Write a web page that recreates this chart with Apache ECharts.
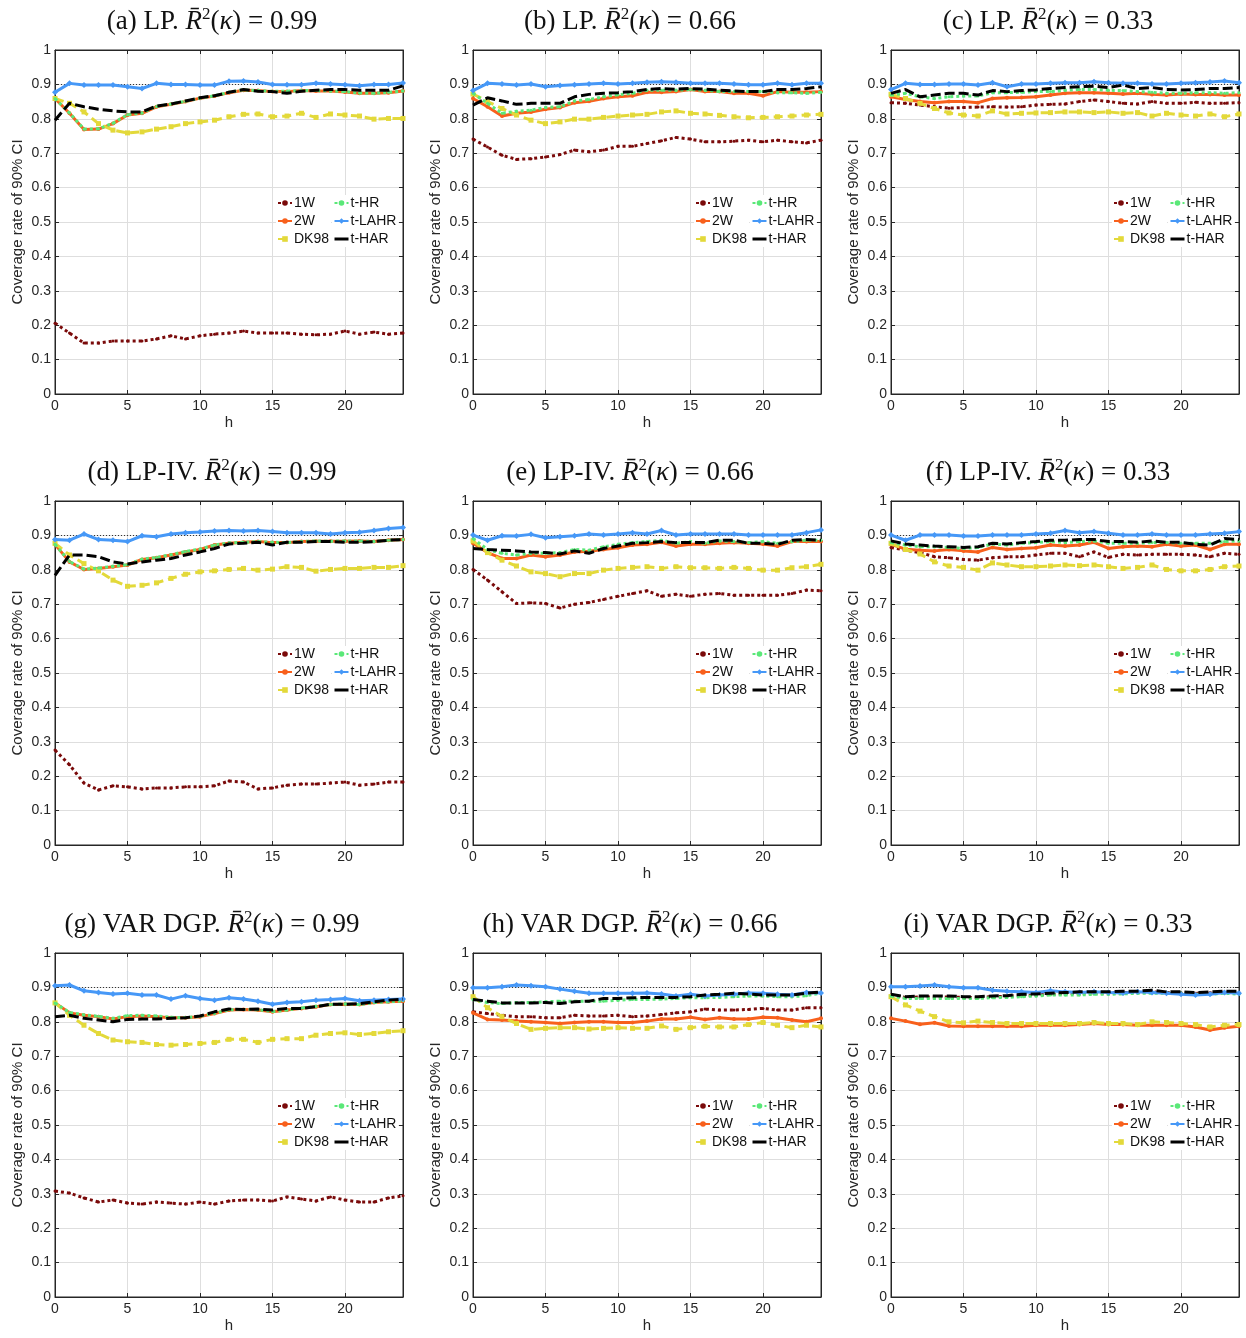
<!DOCTYPE html>
<html>
<head>
<meta charset="utf-8">
<title>Coverage rate of 90% CI</title>
<script src="https://cdn.jsdelivr.net/npm/echarts@6/dist/echarts.min.js"></script>
</head>
<body style="margin:0;background:#fff">
<div id="main" style="width:1246px;height:1338px"></div>
<script>
// horizons h
var horizons = [0,1,2,3,4,5,6,7,8,9,10,11,12,13,14,15,16,17,18,19,20,21,22,23,24];
var nominalLevel = 0.9;
var methods = ['1W', '2W', 'DK98', 't-HR', 't-LAHR', 't-HAR'];
var panelNames = ['(a) LP.', '(b) LP.', '(c) LP.', '(d) LP-IV.', '(e) LP-IV.', '(f) LP-IV.',
                  '(g) VAR DGP.', '(h) VAR DGP.', '(i) VAR DGP.'];
var kappaValues = ['0.99', '0.66', '0.33', '0.99', '0.66', '0.33', '0.99', '0.66', '0.33'];

// (a) LP, 0.99
var a1W   = [0.206,0.177,0.148,0.148,0.154,0.154,0.154,0.160,0.169,0.160,0.169,0.174,0.177,0.183,0.177,0.177,0.177,0.174,0.172,0.174,0.183,0.174,0.180,0.174,0.177];
var a2W   = [0.859,0.816,0.769,0.770,0.786,0.811,0.816,0.835,0.842,0.850,0.860,0.866,0.876,0.883,0.882,0.879,0.879,0.882,0.881,0.881,0.878,0.874,0.874,0.876,0.881];
var aDK98 = [0.859,0.845,0.820,0.786,0.767,0.759,0.762,0.770,0.777,0.786,0.791,0.796,0.806,0.813,0.814,0.806,0.808,0.816,0.804,0.814,0.811,0.808,0.799,0.801,0.801];
var aHR   = [0.859,0.817,0.770,0.771,0.787,0.812,0.817,0.836,0.843,0.851,0.860,0.867,0.877,0.884,0.882,0.880,0.880,0.882,0.882,0.881,0.879,0.875,0.874,0.877,0.881];
var aLAHR = [0.877,0.903,0.898,0.898,0.898,0.893,0.888,0.903,0.900,0.900,0.898,0.898,0.909,0.910,0.907,0.900,0.899,0.899,0.903,0.901,0.899,0.896,0.900,0.900,0.904];
var aHAR  = [0.796,0.845,0.835,0.828,0.823,0.820,0.820,0.837,0.843,0.852,0.861,0.867,0.877,0.885,0.880,0.879,0.874,0.880,0.883,0.885,0.885,0.883,0.883,0.883,0.896];

// (b) LP, 0.66
var b1W   = [0.741,0.718,0.694,0.682,0.684,0.689,0.696,0.709,0.704,0.709,0.720,0.720,0.728,0.736,0.746,0.741,0.733,0.733,0.735,0.738,0.733,0.738,0.733,0.730,0.738];
var b2W   = [0.859,0.835,0.808,0.816,0.820,0.828,0.833,0.847,0.851,0.859,0.864,0.867,0.877,0.877,0.879,0.885,0.879,0.879,0.874,0.874,0.867,0.879,0.877,0.877,0.879];
var bDK98 = [0.872,0.850,0.830,0.811,0.796,0.786,0.791,0.799,0.799,0.804,0.808,0.811,0.813,0.820,0.823,0.816,0.814,0.810,0.806,0.803,0.804,0.806,0.808,0.811,0.813];
var bHR   = [0.874,0.845,0.816,0.822,0.825,0.833,0.835,0.852,0.856,0.864,0.870,0.874,0.883,0.883,0.883,0.885,0.883,0.879,0.879,0.879,0.879,0.876,0.876,0.874,0.877];
var bLAHR = [0.882,0.903,0.901,0.898,0.901,0.893,0.897,0.899,0.901,0.903,0.901,0.903,0.906,0.908,0.906,0.903,0.903,0.903,0.901,0.899,0.899,0.903,0.899,0.903,0.903];
var bHAR  = [0.840,0.861,0.852,0.842,0.845,0.845,0.845,0.864,0.871,0.874,0.876,0.879,0.885,0.888,0.886,0.888,0.886,0.883,0.881,0.879,0.879,0.885,0.885,0.888,0.893];

// (c) LP, 0.33
var c1W   = [0.847,0.845,0.840,0.835,0.831,0.833,0.834,0.835,0.834,0.835,0.840,0.842,0.843,0.850,0.855,0.850,0.845,0.843,0.850,0.845,0.845,0.848,0.845,0.845,0.847];
var c2W   = [0.864,0.856,0.850,0.847,0.850,0.850,0.847,0.859,0.861,0.862,0.864,0.869,0.874,0.876,0.876,0.874,0.872,0.874,0.871,0.869,0.872,0.871,0.871,0.869,0.869];
var cDK98 = [0.871,0.859,0.845,0.830,0.817,0.811,0.808,0.823,0.814,0.816,0.817,0.818,0.820,0.820,0.818,0.820,0.816,0.818,0.808,0.816,0.811,0.808,0.814,0.806,0.814];
var cHR   = [0.869,0.874,0.864,0.859,0.864,0.866,0.866,0.876,0.876,0.877,0.879,0.879,0.883,0.885,0.885,0.883,0.882,0.879,0.877,0.874,0.874,0.876,0.876,0.874,0.876];
var cLAHR = [0.885,0.903,0.900,0.900,0.901,0.901,0.898,0.905,0.893,0.901,0.901,0.903,0.905,0.905,0.908,0.905,0.903,0.903,0.901,0.901,0.903,0.905,0.907,0.910,0.905];
var cHAR  = [0.874,0.885,0.864,0.869,0.874,0.874,0.869,0.882,0.879,0.882,0.884,0.888,0.891,0.893,0.895,0.891,0.898,0.888,0.891,0.885,0.884,0.885,0.888,0.888,0.891];

// (d) LP-IV, 0.99
var d1W   = [0.276,0.233,0.180,0.160,0.172,0.169,0.163,0.166,0.166,0.169,0.169,0.172,0.186,0.183,0.163,0.166,0.174,0.177,0.177,0.180,0.183,0.174,0.177,0.183,0.183];
var d2W   = [0.874,0.823,0.801,0.804,0.809,0.814,0.830,0.835,0.843,0.852,0.859,0.872,0.877,0.880,0.882,0.879,0.879,0.882,0.883,0.883,0.883,0.884,0.882,0.886,0.888];
var dDK98 = [0.877,0.843,0.818,0.797,0.770,0.752,0.755,0.762,0.775,0.787,0.794,0.797,0.801,0.804,0.799,0.802,0.809,0.807,0.796,0.801,0.804,0.804,0.807,0.807,0.812];
var dHR   = [0.874,0.824,0.802,0.805,0.810,0.815,0.831,0.836,0.844,0.853,0.860,0.872,0.878,0.880,0.882,0.880,0.879,0.882,0.884,0.883,0.884,0.884,0.882,0.886,0.888];
var dLAHR = [0.888,0.886,0.904,0.888,0.886,0.882,0.899,0.896,0.904,0.908,0.910,0.913,0.914,0.913,0.914,0.911,0.908,0.908,0.908,0.904,0.908,0.909,0.914,0.920,0.923];
var dHAR  = [0.784,0.843,0.843,0.838,0.823,0.817,0.823,0.828,0.833,0.843,0.852,0.862,0.875,0.877,0.880,0.872,0.880,0.880,0.882,0.882,0.880,0.880,0.882,0.886,0.888];

// (e) LP-IV, 0.66
var e1W   = [0.801,0.770,0.736,0.702,0.704,0.702,0.689,0.700,0.705,0.714,0.723,0.731,0.739,0.723,0.729,0.723,0.729,0.731,0.726,0.726,0.726,0.726,0.731,0.741,0.739];
var e2W   = [0.877,0.850,0.833,0.833,0.843,0.838,0.843,0.852,0.854,0.859,0.864,0.872,0.874,0.880,0.869,0.874,0.874,0.877,0.879,0.877,0.875,0.869,0.882,0.882,0.882];
var eDK98 = [0.884,0.850,0.828,0.811,0.794,0.789,0.780,0.789,0.789,0.799,0.804,0.807,0.809,0.804,0.809,0.806,0.806,0.804,0.807,0.804,0.799,0.799,0.806,0.809,0.816];
var eHR   = [0.891,0.859,0.848,0.843,0.848,0.848,0.850,0.859,0.857,0.867,0.874,0.879,0.882,0.886,0.877,0.882,0.877,0.884,0.882,0.879,0.882,0.877,0.882,0.886,0.886];
var eLAHR = [0.901,0.886,0.899,0.898,0.903,0.893,0.896,0.899,0.904,0.901,0.904,0.908,0.904,0.914,0.901,0.904,0.904,0.904,0.904,0.901,0.901,0.901,0.901,0.908,0.916];
var eHAR  = [0.862,0.859,0.857,0.855,0.852,0.850,0.846,0.855,0.848,0.862,0.869,0.877,0.879,0.882,0.879,0.879,0.879,0.886,0.886,0.877,0.877,0.874,0.886,0.888,0.886];

// (f) LP-IV, 0.33
var f1W   = [0.865,0.857,0.850,0.838,0.835,0.830,0.828,0.835,0.838,0.838,0.843,0.848,0.848,0.838,0.852,0.836,0.845,0.843,0.845,0.845,0.845,0.843,0.838,0.848,0.845];
var f2W   = [0.874,0.860,0.857,0.855,0.859,0.855,0.852,0.865,0.859,0.862,0.864,0.872,0.869,0.872,0.880,0.862,0.867,0.869,0.867,0.874,0.869,0.872,0.859,0.874,0.874];
var fDK98 = [0.877,0.859,0.846,0.823,0.811,0.807,0.799,0.820,0.814,0.809,0.809,0.811,0.814,0.812,0.814,0.809,0.804,0.807,0.814,0.801,0.797,0.797,0.801,0.809,0.811];
var fHR   = [0.879,0.872,0.867,0.867,0.865,0.862,0.865,0.875,0.872,0.877,0.879,0.882,0.879,0.882,0.884,0.877,0.877,0.877,0.879,0.879,0.877,0.877,0.877,0.882,0.884];
var fLAHR = [0.901,0.886,0.901,0.901,0.901,0.898,0.898,0.901,0.901,0.901,0.904,0.906,0.914,0.908,0.911,0.906,0.901,0.901,0.904,0.901,0.901,0.901,0.904,0.906,0.911];
var fHAR  = [0.884,0.875,0.872,0.869,0.867,0.865,0.867,0.877,0.875,0.879,0.882,0.886,0.886,0.888,0.888,0.882,0.882,0.880,0.884,0.880,0.880,0.874,0.872,0.891,0.888];

// (g) VAR DGP, 0.99
var g1W   = [0.308,0.302,0.288,0.276,0.282,0.273,0.270,0.276,0.273,0.270,0.276,0.270,0.279,0.282,0.282,0.279,0.291,0.285,0.279,0.291,0.282,0.276,0.276,0.288,0.294];
var g2W   = [0.855,0.826,0.819,0.815,0.808,0.815,0.817,0.815,0.812,0.812,0.815,0.824,0.834,0.836,0.834,0.829,0.834,0.839,0.844,0.850,0.851,0.850,0.856,0.858,0.860];
var gDK98 = [0.855,0.819,0.790,0.766,0.747,0.742,0.740,0.734,0.732,0.734,0.737,0.740,0.749,0.749,0.740,0.749,0.751,0.751,0.761,0.766,0.768,0.763,0.766,0.771,0.774];
var gHR   = [0.855,0.827,0.820,0.816,0.810,0.818,0.819,0.817,0.813,0.812,0.816,0.825,0.835,0.836,0.835,0.830,0.834,0.840,0.845,0.850,0.852,0.850,0.856,0.858,0.861];
var gLAHR = [0.905,0.907,0.890,0.885,0.881,0.883,0.878,0.878,0.866,0.876,0.868,0.863,0.870,0.866,0.860,0.851,0.856,0.858,0.863,0.865,0.868,0.861,0.863,0.865,0.866];
var gHAR  = [0.815,0.819,0.810,0.805,0.800,0.807,0.808,0.808,0.810,0.812,0.817,0.829,0.837,0.836,0.837,0.834,0.839,0.839,0.844,0.851,0.851,0.853,0.858,0.863,0.866];

// (h) VAR DGP, 0.66
var h1W   = [0.829,0.824,0.819,0.815,0.815,0.812,0.812,0.819,0.817,0.817,0.819,0.815,0.817,0.821,0.826,0.829,0.837,0.834,0.834,0.836,0.839,0.834,0.834,0.841,0.841];
var h2W   = [0.826,0.807,0.805,0.802,0.800,0.798,0.795,0.798,0.800,0.800,0.798,0.798,0.802,0.808,0.808,0.813,0.807,0.812,0.808,0.808,0.813,0.812,0.805,0.800,0.810];
var hDK98 = [0.873,0.841,0.815,0.795,0.778,0.781,0.783,0.783,0.779,0.781,0.783,0.781,0.781,0.788,0.778,0.783,0.787,0.785,0.785,0.792,0.798,0.790,0.783,0.790,0.785];
var hHR   = [0.865,0.856,0.853,0.856,0.856,0.858,0.860,0.860,0.860,0.860,0.863,0.865,0.865,0.866,0.868,0.870,0.870,0.871,0.873,0.875,0.875,0.873,0.873,0.876,0.883];
var hLAHR = [0.899,0.899,0.902,0.907,0.905,0.902,0.895,0.889,0.883,0.883,0.883,0.883,0.884,0.881,0.875,0.880,0.875,0.878,0.880,0.884,0.883,0.880,0.878,0.885,0.884];
var hHAR  = [0.865,0.860,0.855,0.855,0.855,0.856,0.853,0.858,0.860,0.868,0.868,0.870,0.871,0.871,0.871,0.873,0.878,0.880,0.883,0.881,0.878,0.878,0.878,0.883,0.887];

// (i) VAR DGP, 0.33
var i1W   = [0.878,0.871,0.872,0.872,0.872,0.871,0.871,0.873,0.874,0.877,0.878,0.880,0.882,0.883,0.884,0.884,0.885,0.886,0.887,0.885,0.885,0.883,0.884,0.886,0.885];
var i2W   = [0.810,0.802,0.793,0.797,0.788,0.787,0.787,0.787,0.787,0.787,0.790,0.790,0.790,0.792,0.795,0.792,0.792,0.790,0.790,0.790,0.790,0.785,0.776,0.783,0.787];
var iDK98 = [0.873,0.849,0.831,0.815,0.800,0.797,0.802,0.798,0.795,0.795,0.795,0.795,0.795,0.795,0.798,0.795,0.795,0.792,0.800,0.798,0.795,0.792,0.785,0.790,0.792];
var iHR   = [0.875,0.868,0.868,0.868,0.868,0.868,0.868,0.870,0.871,0.873,0.875,0.878,0.878,0.878,0.880,0.880,0.881,0.883,0.883,0.883,0.884,0.880,0.880,0.883,0.880];
var iLAHR = [0.902,0.902,0.904,0.907,0.902,0.899,0.899,0.892,0.889,0.887,0.885,0.890,0.887,0.885,0.887,0.885,0.884,0.887,0.885,0.883,0.880,0.878,0.880,0.885,0.883];
var iHAR  = [0.880,0.873,0.875,0.875,0.875,0.873,0.873,0.875,0.876,0.880,0.881,0.883,0.885,0.887,0.887,0.887,0.889,0.889,0.892,0.887,0.887,0.885,0.887,0.889,0.889];

var panelData = [
    [a1W, a2W, aDK98, aHR, aLAHR, aHAR],
    [b1W, b2W, bDK98, bHR, bLAHR, bHAR],
    [c1W, c2W, cDK98, cHR, cLAHR, cHAR],
    [d1W, d2W, dDK98, dHR, dLAHR, dHAR],
    [e1W, e2W, eDK98, eHR, eLAHR, eHAR],
    [f1W, f2W, fDK98, fHR, fLAHR, fHAR],
    [g1W, g2W, gDK98, gHR, gLAHR, gHAR],
    [h1W, h2W, hDK98, hHR, hLAHR, hHAR],
    [i1W, i2W, iDK98, iHR, iLAHR, iHAR]
];

// look of each method
var styles = {
    '1W':     {color: '#7a0a0a', type: [3, 3],  symbol: 'circle',  size: 3},
    '2W':     {color: '#f8601c', type: 'solid', symbol: 'circle',  size: 4},
    'DK98':   {color: '#e3d93a', type: [9, 5],  symbol: 'rect',    size: 5},
    't-HR':   {color: '#5ae878', type: [3, 3],  symbol: 'circle',  size: 3},
    't-LAHR': {color: '#4698f7', type: 'solid', symbol: 'diamond', size: 6},
    't-HAR':  {color: '#000000', type: [10, 4], symbol: 'none',    size: 0}
};

var colLeft = [55, 473, 891];
var rowTop = [50, 501, 953];
var titleX = [207, 625, 1043];
var plotW = 348, plotH = 344;
var sans = 'Liberation Sans';
var serif = 'Liberation Serif';
var ink = '#262626';

var grids = [], xAxes = [], yAxes = [], titles = [], legends = [], series = [];

// legend entries: t-HAR shows only its dashed line
var legendEntries = methods.map(function (name) {
    if (styles[name].symbol === 'none') {
        return {name: name, itemStyle: {opacity: 0}, lineStyle: {width: 3, type: 'solid'}};
    }
    return {name: name};
});

for (var p = 0; p < 9; p++) {
    var r = Math.floor(p / 3), c = p % 3;
    grids.push({left: colLeft[c], top: rowTop[r], width: plotW, height: plotH,
                show: true, borderColor: ink, borderWidth: 1, backgroundColor: '#fff'});

    titles.push({
        left: titleX[c], top: rowTop[r] - 49, textAlign: 'center',
        text: '{n|' + panelNames[p] + ' }{i|R\u0304}{s|2}{n|(}{i|\u03ba}{n|) = ' + kappaValues[p] + '}',
        textStyle: {
            fontWeight: 'normal',
            rich: {
                n: {fontFamily: serif, fontWeight: 'normal', fontSize: 27, color: '#111', lineHeight: 32},
                i: {fontFamily: serif, fontWeight: 'normal', fontStyle: 'italic', fontSize: 27, color: '#111', lineHeight: 32},
                s: {fontFamily: serif, fontWeight: 'normal', fontSize: 17, color: '#111', verticalAlign: 'top'}
            }
        }
    });

    var common = {gridIndex: p, min: 0, max: 24, interval: 5, type: 'value'};
    xAxes.push(Object.assign({}, common, {
        position: 'bottom',
        name: 'h', nameLocation: 'middle', nameGap: 21,
        nameTextStyle: {fontFamily: sans, fontSize: 15, color: ink},
        axisLine: {onZero: false, lineStyle: {color: ink, width: 1}},
        axisTick: {inside: true, length: 4, lineStyle: {color: ink}},
        axisLabel: {fontFamily: sans, fontSize: 14, color: ink, margin: 5, showMaxLabel: false},
        splitLine: {show: true, lineStyle: {color: '#dedede', width: 1}}
    }));
    xAxes.push(Object.assign({}, common, {
        position: 'top',
        axisLine: {onZero: false, lineStyle: {color: ink, width: 1}},
        axisTick: {inside: true, length: 4, lineStyle: {color: ink}},
        axisLabel: {show: false},
        splitLine: {show: false}
    }));

    var ycommon = {gridIndex: p, min: 0, max: 1, interval: 0.1, type: 'value'};
    yAxes.push(Object.assign({}, ycommon, {
        position: 'left',
        name: 'Coverage rate of 90% CI', nameLocation: 'middle', nameGap: 30,
        nameTextStyle: {fontFamily: sans, fontSize: 15, color: ink},
        axisLine: {onZero: false, lineStyle: {color: ink, width: 1}},
        axisTick: {inside: true, length: 4, lineStyle: {color: ink}},
        axisLabel: {fontFamily: sans, fontSize: 14, color: ink, margin: 4},
        splitLine: {show: true, lineStyle: {color: '#dedede', width: 1}}
    }));
    yAxes.push(Object.assign({}, ycommon, {
        position: 'right',
        axisLine: {onZero: false, lineStyle: {color: ink, width: 1}},
        axisTick: {inside: true, length: 4, lineStyle: {color: ink}},
        axisLabel: {show: false},
        splitLine: {show: false}
    }));

    var legendCommon = {
        orient: 'vertical', top: rowTop[r] + 145, itemGap: 4,
        itemWidth: 14, itemHeight: 7, padding: [1, 2, 1, 1],
        backgroundColor: '#fff', selectedMode: false,
        textStyle: {fontFamily: sans, fontSize: 14, color: '#111', padding: [0, 0, 0, -3]}
    };
    legends.push(Object.assign({}, legendCommon, {left: colLeft[c] + 221, data: legendEntries.slice(0, 3)}));
    legends.push(Object.assign({}, legendCommon, {left: colLeft[c] + 277, data: legendEntries.slice(3)}));

    for (var m = 0; m < methods.length; m++) {
        var st = styles[methods[m]];
        var vals = panelData[p][m];
        var s = {
            type: 'line', name: methods[m],
            xAxisIndex: 2 * p, yAxisIndex: 2 * p,
            data: horizons.map(function (h, k) { return [h, vals[k]]; }),
            symbol: st.symbol, symbolSize: st.size, showSymbol: st.symbol !== 'none',
            lineStyle: {color: st.color, width: 3, type: st.type},
            itemStyle: {color: st.color},
            z: 2 + m
        };
        if (m === 0) {
            s.markLine = {
                silent: true, symbol: ['none', 'none'], label: {show: false},
                lineStyle: {color: '#333', width: 1, type: [1, 2]},
                data: [{yAxis: nominalLevel}]
            };
        }
        series.push(s);
    }
}

var myChart = echarts.init(document.getElementById('main'));
myChart.setOption({
    animation: false,
    backgroundColor: '#fff',
    title: titles,
    grid: grids,
    xAxis: xAxes,
    yAxis: yAxes,
    legend: legends,
    series: series
});
</script>
</body>
</html>
